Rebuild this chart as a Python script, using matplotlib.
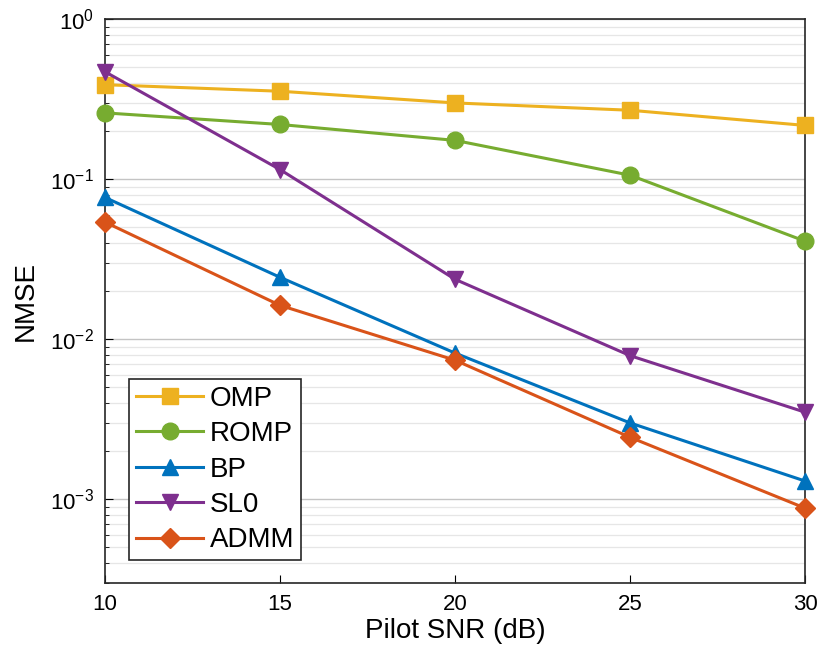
import matplotlib
matplotlib.use('Agg')
import matplotlib.pyplot as plt
import numpy as np

snr = [10, 15, 20, 25, 30]
omp = [0.39, 0.355, 0.30, 0.27, 0.217]
romp = [0.26, 0.22, 0.175, 0.106, 0.041]
bp = [0.077, 0.0244, 0.0082, 0.0030, 0.0013]
sl0 = [0.47, 0.115, 0.0237, 0.0079, 0.0035]
admm = [0.054, 0.0163, 0.0074, 0.00244, 0.00088]

plt.rcParams['font.family'] = ['Liberation Sans', 'DejaVu Sans']


def main():
    fig = plt.figure(figsize=(8.2, 6.64), dpi=100)
    ax = fig.add_axes([0.128, 0.122, 0.854, 0.849])

    series = [(omp, 'OMP', '#EDB120', 's'),
              (romp, 'ROMP', '#77AC30', 'o'),
              (bp, 'BP', '#0072BD', '^'),
              (sl0, 'SL0', '#7E2F8E', 'v'),
              (admm, 'ADMM', '#D95319', 'D')]
    for dat, label, col, mk in series:
        ms = 10 if mk == 'D' else 12
        ax.semilogy(snr, dat, color=col, marker=mk, markersize=ms, linewidth=2.2,
                    label=label, clip_on=False, zorder=3)

    ax.set_xlim(10, 30)
    ax.set_ylim(3e-4, 1)
    ax.set_xticks([10, 15, 20, 25, 30])
    ax.grid(True, axis='y', which='major', color='#c4c4c4', linewidth=1.0)
    ax.grid(True, axis='y', which='minor', color='#e6e6e6', linewidth=0.9)
    ax.tick_params(which='both', direction='in', labelsize=16, top=False, right=False)
    ax.tick_params(which='major', length=6)
    ax.tick_params(which='minor', length=3)
    ax.tick_params(axis='x', pad=8)
    ax.tick_params(axis='y', pad=8)
    for sp in ax.spines.values():
        sp.set_linewidth(1.2)
        sp.set_color('#262626')
    ax.set_xlabel('Pilot SNR (dB)', fontsize=20, labelpad=2)
    ax.set_ylabel('NMSE', fontsize=20, labelpad=8)

    leg = ax.legend(loc='lower left', bbox_to_anchor=(0.035, 0.04), fontsize=20,
                    fancybox=False, edgecolor='#262626', framealpha=1,
                    handlelength=2.4, borderpad=0.25, labelspacing=0.34,
                    handletextpad=0.25, borderaxespad=0)
    leg.get_frame().set_linewidth(1.2)

    fig.savefig('out.png', dpi=100)


if __name__ == '__main__':
    main()
